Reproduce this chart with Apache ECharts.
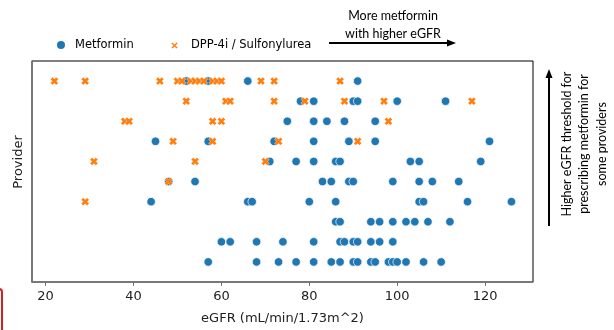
<!DOCTYPE html>
<html>
<head>
<meta charset="utf-8">
<script src="https://cdn.jsdelivr.net/npm/echarts@6/dist/echarts.min.js"></script>
<style>
  html, body { margin: 0; padding: 0; background: #fff; }
  #chart { width: 614px; height: 330px; }
</style>
</head>
<body>
<div id="chart"></div>
<script>
// eGFR values per provider row (row 0 = top)
const metforminRows = [
  [52, 57, 66, 91],
  [78, 81, 90, 91, 100, 111],
  [75, 81, 84, 88, 95],
  [45, 57, 72, 81, 89, 95, 121],
  [71, 77, 81, 86, 87, 103, 105, 119],
  [48, 54, 83, 85, 89, 90, 99, 105, 108, 114],
  [44, 66, 67, 80, 86, 105, 106, 116, 126],
  [86, 87, 94, 96, 99, 102, 104, 107, 112],
  [60, 62, 68, 74, 81, 87, 88, 90, 91, 94, 96, 99],
  [57, 68, 73, 77, 81, 85, 87, 90, 91, 94, 95, 98, 99, 100, 102, 106, 110]
];
const dppRows = [
  [22, 29, 46, 50, 51, 53, 54, 55, 56, 58, 59, 60, 69, 72, 87],
  [52, 61, 62, 72, 79, 88, 97, 117],
  [38, 39, 58, 60, 98],
  [49, 58, 73, 91],
  [31, 54, 70],
  [48],
  [29],
  [],
  [],
  []
];
const xTicks = [20, 40, 60, 80, 100, 120];
const seriesNames = ['Metformin', 'DPP-4i / Sulfonylurea'];

const colors = ['#1f77b4', '#ff7f0e'];
const font = 'DejaVu Sans';
const noteFont = 'Lato';

// filled "X" marker like matplotlib's
const xMarker = 'path://M0,1.6 L1.6,0 L3,1.4 L4.4,0 L6,1.6 L4.6,3 L6,4.4 L4.4,6 L3,4.6 L1.6,6 L0,4.4 L1.4,3 Z';

function toPoints(rows) {
  const pts = [];
  rows.forEach((vals, row) => vals.forEach(v => pts.push([v, row])));
  return pts;
}

const chart = echarts.init(document.getElementById('chart'), null, { renderer: 'canvas' });

const option = {
  animation: false,
  backgroundColor: '#fff',
  grid: { left: 32, right: 81, top: 61, bottom: 38, show: true, borderColor: '#000', borderWidth: 1 },
  legend: [
    {
      data: [seriesNames[0]],
      icon: 'circle',
      left: 50, top: 34,
      itemWidth: 10, itemHeight: 10,
      textStyle: { fontFamily: font, fontSize: 11.5, color: '#000', padding: [0, 0, 0, 4] }
    },
    {
      data: [seriesNames[1]],
      icon: xMarker,
      left: 164, top: 34.5,
      itemWidth: 9, itemHeight: 9,
      textStyle: { fontFamily: font, fontSize: 11.5, color: '#000', padding: [0, 0, 0, 7] }
    }
  ],
  xAxis: {
    type: 'value',
    min: 16.9,
    max: 130.9,
    name: 'eGFR (mL/min/1.73m^2)',
    nameLocation: 'middle',
    nameGap: 30,
    nameTextStyle: { fontFamily: font, fontSize: 13, color: '#222' },
    axisLine: { show: true, onZero: false, lineStyle: { color: '#777', width: 1.5 } },
    axisTick: { show: true, length: 4, customValues: xTicks, lineStyle: { color: '#777' } },
    axisLabel: { customValues: xTicks, margin: 8, fontFamily: font, fontSize: 13, color: '#222' },
    splitLine: { show: false }
  },
  yAxis: {
    type: 'value',
    inverse: true,
    min: -1,
    max: 10,
    axisLine: { show: true, onZero: false, lineStyle: { color: '#777', width: 1.5 } },
    axisTick: { show: false },
    axisLabel: { show: false },
    splitLine: { show: false }
  },
  series: [
    {
      name: seriesNames[0],
      type: 'scatter',
      symbol: 'circle',
      symbolSize: 8.5,
      itemStyle: { color: colors[0], borderColor: '#fff', borderWidth: 0.7, opacity: 1 },
      data: toPoints(metforminRows)
    },
    {
      name: seriesNames[1],
      type: 'scatter',
      symbol: xMarker,
      symbolSize: 8,
      itemStyle: { color: colors[1], borderColor: '#fff', borderWidth: 0.4, opacity: 1 },
      data: toPoints(dppRows)
    }
  ],
  graphic: [
    // y axis title
    {
      type: 'text', x: 19, y: 162, rotation: Math.PI / 2,
      style: { text: 'Provider', fontFamily: font, fontSize: 13, fill: '#222', align: 'center', verticalAlign: 'middle' }
    },
    // top note + horizontal arrow
    {
      type: 'text', x: 393, y: 25,
      style: { text: 'More metformin\nwith higher eGFR', fontFamily: noteFont, fontSize: 12.5, lineHeight: 18, fill: '#000', align: 'center', verticalAlign: 'middle' }
    },
    { type: 'line', shape: { x1: 329, y1: 43, x2: 449, y2: 43 }, style: { stroke: '#000', lineWidth: 2 } },
    { type: 'polygon', shape: { points: [[456, 43], [447, 39.5], [447, 46.5]] }, style: { fill: '#000' } },
    // right note + vertical arrow
    { type: 'line', shape: { x1: 549, y1: 226, x2: 549, y2: 77 }, style: { stroke: '#000', lineWidth: 2 } },
    { type: 'polygon', shape: { points: [[549, 69], [545.5, 78], [552.5, 78]] }, style: { fill: '#000' } },
    {
      type: 'text', x: 584, y: 144, rotation: Math.PI / 2,
      style: { text: 'Higher eGFR threshold for\nprescribing metformin for\nsome providers', fontFamily: noteFont, fontSize: 12.5, lineHeight: 17.5, fill: '#000', align: 'center', verticalAlign: 'middle' }
    },
    // red edge at the far left
    { type: 'rect', shape: { x: -8, y: 289, width: 10, height: 50, r: 3 }, style: { fill: 'none', stroke: '#d62020', lineWidth: 2 } }
  ]
};

chart.setOption(option);
</script>
</body>
</html>
